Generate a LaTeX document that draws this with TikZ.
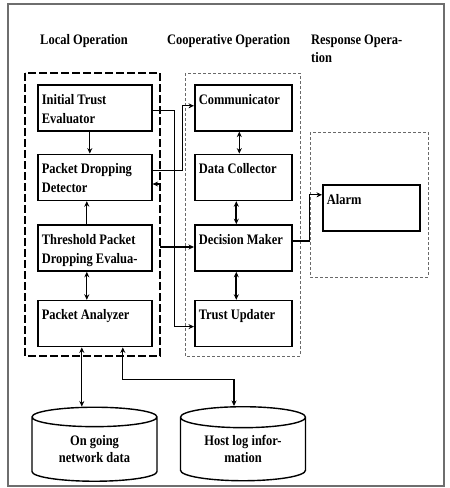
\documentclass[tikz,border=0pt]{standalone}
\usepackage{fontspec}
\setmainfont{Liberation Serif}[FakeStretch=0.86]
\usetikzlibrary{positioning,calc,arrows.meta,shapes.geometric}
\definecolor{framegray}{RGB}{110,110,110}
\definecolor{groupgray}{RGB}{105,105,105}
\newcommand{\unitfont}{\bfseries\fontsize{14.5}{19}\selectfont}
\newcommand{\unittext}[2][106pt]{\parbox[t][34pt][t]{#1}{\strut#2}}

\begin{document}
\begin{tikzpicture}[x=1pt, y=-1pt, >={Stealth[length=5.5pt,width=5pt]}]
  \tikzstyle{unit}=[draw, line width=1.6pt, inner xsep=4pt, inner ysep=6pt, minimum height=46pt, font=\unitfont]
  \tikzstyle{store}=[cylinder, shape border rotate=90, draw, line width=1.4pt, minimum width=125pt, minimum height=74pt, aspect=0.25, align=center, font=\bfseries\fontsize{14.5}{17}\selectfont]
  \tikzstyle{head}=[anchor=base west, inner sep=0pt, align=left, font=\bfseries\fontsize{14.5}{18}\selectfont]
  \tikzstyle{link}=[line width=1.2pt]
  \useasboundingbox (0,0) rectangle (450,488);
  \draw[framegray, line width=1.5pt] (8,4) rectangle (444,486);
  % headings
  \node[head] (hlocal) at (40,44) {Local Operation};
  \node[head] (hcoop) at (167,44) {Cooperative Operation};
  \node[head] (hresp) at (311,62) {Response Opera-\\tion};
  % operation groups
  \draw[line width=1.6pt, dash pattern=on 8pt off 3pt] (25,73) rectangle (160,356);
  \draw[groupgray, line width=0.8pt, dash pattern=on 3pt off 2pt] (185,73) rectangle (300,356);
  \draw[groupgray, line width=0.8pt, dash pattern=on 3pt off 2pt] (310,132) rectangle (428,277);
  % local units
  \node[unit, anchor=north west] (ite) at (37,84) {\unittext{Initial Trust\\Evaluator}};
  \node[unit, below=22pt of ite] (pdd) {\unittext{Packet Dropping\\Detector}};
  \node[unit, below=23pt of pdd] (tpde) {\unittext{Threshold Packet\\Dropping Evalua-}};
  \node[unit, below=28pt of tpde] (pa) {\unittext{Packet Analyzer}};
  % cooperative units
  \node[unit, anchor=north west] (comm) at (194,84) {\unittext[89pt]{Communicator}};
  \node[unit, below=22pt of comm] (dc) {\unittext[89pt]{Data Collector}};
  \node[unit, below=23pt of dc] (dm) {\unittext[89pt]{Decision Maker}};
  \node[unit, below=28pt of dm] (tu) {\unittext[89pt]{Trust Updater}};
  % response unit
  \node[unit, anchor=north west] (alarm) at (322,184) {\unittext[89pt]{Alarm}};
  % data stores
  \node[store] (net) at (94.5,451) {\raisebox{-5pt}{\begin{tabular}{@{}c@{}}On going\\network data\end{tabular}}};
  \node[store] (hostlog) at (243,451) {\raisebox{-5pt}{\begin{tabular}{@{}c@{}}Host log infor-\\mation\end{tabular}}};
  % local links
  \draw[link, ->] ([xshift=-5pt]ite.south) -- ([xshift=-5pt]pdd.north);
  \draw[link, ->] ([xshift=-8pt]tpde.north) -- ([xshift=-8pt]pdd.south);
  \draw[link, <->] ([xshift=-8pt]tpde.south) -- ([xshift=-8pt]pa.north);
  \draw[link, <->] ([xshift=-13pt]pa.south) -- ([xshift=-13pt]pa.south |- net.north);
  \draw[link, <->] ([xshift=28pt]pa.south) -- ++(0,32) -| ([xshift=-9pt]hostlog.north);
  % cooperative links
  \draw[link, <->] ([xshift=-4pt]comm.south) -- ([xshift=-4pt]dc.north);
  \draw[link, <->, line width=1.8pt] ([xshift=-7pt]dc.south) -- ([xshift=-7pt]dm.north);
  \draw[link, <->, line width=1.8pt] ([xshift=-7pt]dm.south) -- ([xshift=-7pt]tu.north);
  % links across the groups
  \draw[link, ->] ([yshift=-3pt]ite.east) -- ++(22,0) |- ([yshift=-3pt]tu.west);
  \draw[link, ->] ([yshift=7pt]pdd.east) -- ++(30,0) |- ([yshift=2pt]comm.west);
  \coordinate (lgate1) at (160,184);
  \coordinate (lgate2) at (160,247);
  \draw[link, ->] (lgate1) -- (lgate1 -| pdd.east);
  \draw[link, ->] (lgate2) -- (lgate2 -| dm.west);
  \draw[link, ->] ([yshift=7pt]dm.east) -- ++(17,0) |- ([yshift=13pt]alarm.west);
\end{tikzpicture}
\end{document}
